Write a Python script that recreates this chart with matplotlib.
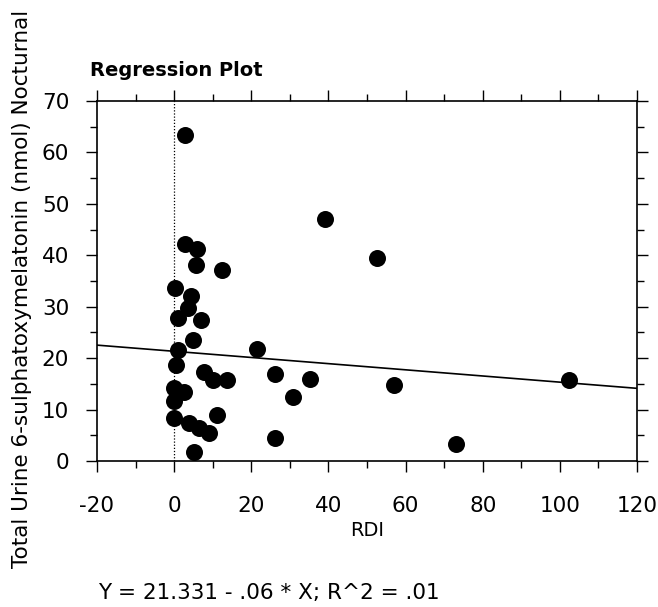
import matplotlib
matplotlib.use("Agg")
import matplotlib.pyplot as plt
from matplotlib.ticker import MultipleLocator

rdi = [2.8, 2.8, 6.0, 5.6, 12.5, 0.3, 4.3, 3.5, 1.1, 6.9, 4.8, 21.6, 0.9, 0.4,
       7.8, 10.0, 13.8, 2.6, 0.0, 0.0, 11.2, 0.0, 3.9, 6.5, 9.1, 5.2,
       39.1, 52.5, 26.2, 35.3, 30.7, 57.1, 26.2, 73.2, 102.4]
melatonin = [63.4, 42.1, 41.2, 38.2, 37.2, 33.7, 32.0, 29.8, 27.8, 27.5, 23.6, 21.8, 21.6, 18.7,
             17.4, 15.8, 15.8, 13.5, 14.2, 11.6, 9.0, 8.3, 7.3, 6.4, 5.4, 1.8,
             47.0, 39.4, 16.9, 16.0, 12.4, 14.7, 4.5, 3.3, 15.8]

intercept = 21.331
slope = -0.06
x_range = [-20, 120]

x_ticks = [-20, 0, 20, 40, 60, 80, 100, 120]
y_ticks = [0, 10, 20, 30, 40, 50, 60, 70]

plt.rcParams['font.family'] = ['DejaVu Sans']
plt.rcParams['axes.unicode_minus'] = False

fig = plt.figure(figsize=(6.58, 6.07), dpi=100)
ax = fig.add_axes([97/658, 1-461/607, (637-97)/658, (461-101)/607])

ax.scatter(rdi, melatonin, s=150, color='black', zorder=3, linewidths=0)
ax.plot(x_range, [intercept + slope*v for v in x_range], color='black', lw=1.2, zorder=2)
ax.axvline(0, color='black', lw=0.9, ls=(0, (1, 1.5)), zorder=1)

ax.set_xlim(-20, 120)
ax.set_ylim(0, 70)
ax.set_xticks(x_ticks)
ax.set_yticks(y_ticks)
ax.xaxis.set_minor_locator(MultipleLocator(10))
ax.yaxis.set_minor_locator(MultipleLocator(5))
ax.tick_params(which='both', direction='out', top=True, right=True, width=1.0, color='black')
ax.tick_params(which='major', length=8, labelsize=15.5)
ax.tick_params(which='minor', length=5)
ax.tick_params(axis='x', which='major', pad=17)
ax.tick_params(axis='y', which='major', pad=12)
for s in ax.spines.values():
    s.set_linewidth(1.2)

ax.set_xlabel('RDI', fontsize=14)
ax.xaxis.set_label_coords(0.5, (461-531)/360)
ax.xaxis.label.set_va('center')
ax.set_ylabel('Total Urine 6-sulphatoxymelatonin (nmol) Nocturnal', fontsize=15.5)
ax.yaxis.set_label_coords((22-97)/540, (461-289)/360)
ax.yaxis.label.set_va('center')

fig.text(90/658, 1-70/607, 'Regression Plot', fontsize=14, fontweight='bold', va='center', ha='left')
fig.text(98/658, 1-593/607, 'Y = 21.331 - .06 * X; R^2 = .01', fontsize=15.5, va='center', ha='left')

fig.savefig('out.png', dpi=100)
